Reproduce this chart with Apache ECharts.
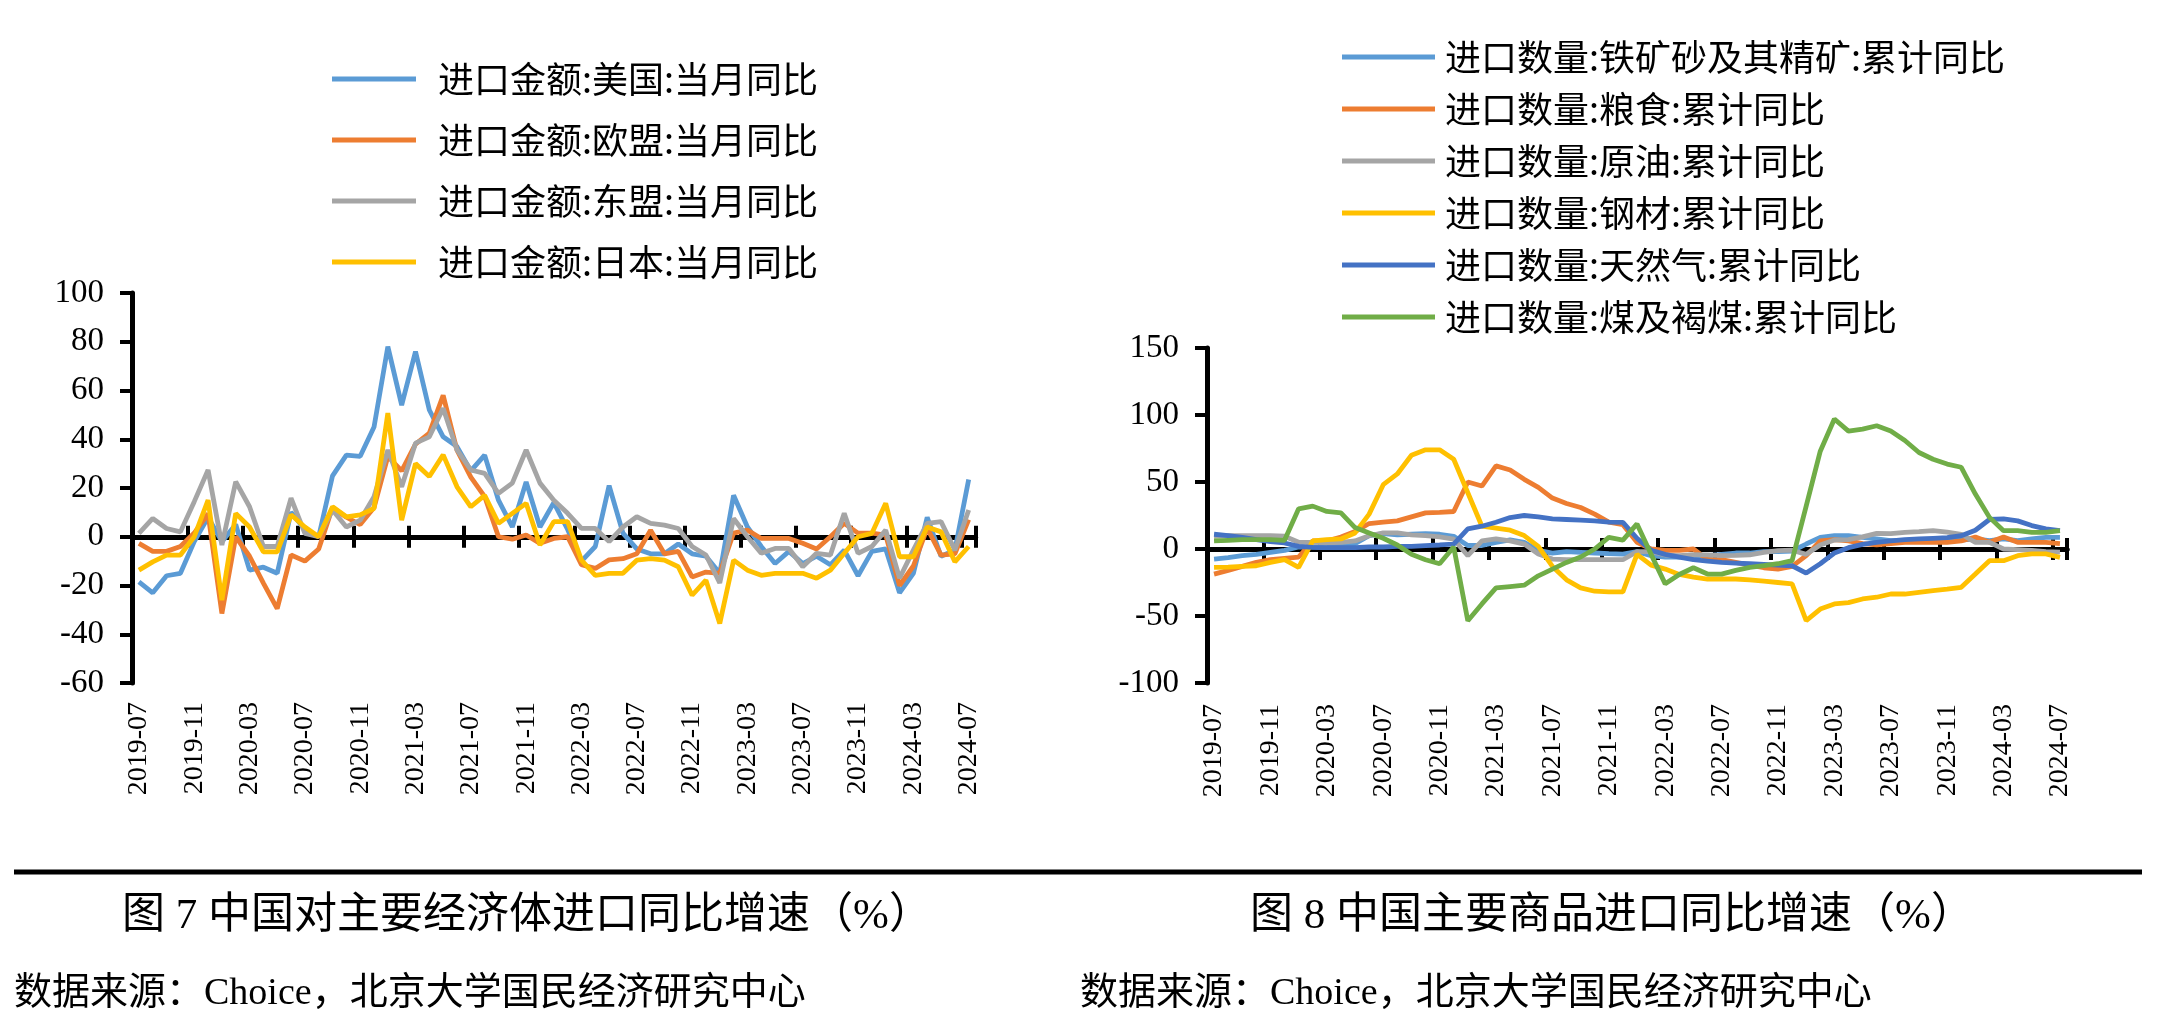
<!DOCTYPE html>
<html>
<head>
<meta charset="utf-8">
<script src="https://cdn.jsdelivr.net/npm/echarts@6/dist/echarts.min.js"></script>
<style>
  html, body { margin: 0; padding: 0; background: #fff; }
  #chart { width: 2157px; height: 1032px; }
</style>
</head>
<body>
<div id="chart"></div>
<script>
// months shared by both panels
const months = [
  '2019-07','2019-08','2019-09','2019-10','2019-11','2019-12',
  '2020-01','2020-02','2020-03','2020-04','2020-05','2020-06','2020-07','2020-08','2020-09','2020-10','2020-11','2020-12',
  '2021-01','2021-02','2021-03','2021-04','2021-05','2021-06','2021-07','2021-08','2021-09','2021-10','2021-11','2021-12',
  '2022-01','2022-02','2022-03','2022-04','2022-05','2022-06','2022-07','2022-08','2022-09','2022-10','2022-11','2022-12',
  '2023-01','2023-02','2023-03','2023-04','2023-05','2023-06','2023-07','2023-08','2023-09','2023-10','2023-11','2023-12',
  '2024-01','2024-02','2024-03','2024-04','2024-05','2024-06','2024-07'
]

// 图7 进口金额 当月同比
const leftNames = ['进口金额:美国:当月同比', '进口金额:欧盟:当月同比', '进口金额:东盟:当月同比', '进口金额:日本:当月同比']
const usImport = [-18.5, -23, -16, -15, -2, 8, -2, 5, -13.7, -12.5,
  -15, 10, 3, 0, 25, 33.5, 33, 45, 78, 54,
  76, 52, 41, 37, 27, 33.5, 15, 4, 22.5, 4,
  14, 3, -10, -4, 21, 1.5, -5, -7, -7, -3,
  -7, -8, -15, 17, 4, -4, -11, -6, -11, -8,
  -11.5, -5.5, -16, -6, -5, -23, -15, 8, -8, -5.5,
  23.5]
const euImport = [-2.7, -6, -6, -4, 1.5, 9.5, -31.5, 0, -8, -19,
  -29.5, -7.5, -10, -5, 12, 8, 5, 12, 33, 27,
  38, 42.5, 58, 35.5, 24.5, 16.5, 0, -1, 0.7, -2.7,
  -0.7, 0, -11.5, -13, -9.5, -9, -7, 2.7, -7, -6,
  -16.5, -14.5, -15, 1.5, 2.7, -0.7, -0.7, -0.7, -2.7, -5,
  0, 5.5, 1.5, 1.5, 0.7, -20, -12, 3.5, -7.5, -7,
  7]
const aseanImport = [1.4, 7.5, 3.4, 2, 14.4, 27.4, -3.4, 22.6, 12.3, -4,
  -4, 15.8, 1.4, 0, 11, 4, 6.8, 16.4, 35.6, 20.5,
  38.4, 41, 52.7, 35.6, 27.4, 26, 17.8, 22, 35.6, 22,
  15, 9.6, 3.4, 3.4, -2, 4, 8.2, 5.5, 4.8, 3.4,
  -4, -7.5, -19, 7.5, 0, -6.8, -4.8, -4.8, -12.3, -6.8,
  -7.5, 9.6, -6.8, -4, 2.7, -17, -5.5, 5.5, 6.2, -5.5,
  11]
const japanImport = [-13.7, -10.3, -7.5, -7.5, 0, 15, -26, 9.6, 4, -6.2,
  -6.2, 9, 4, 0, 12.3, 8.2, 9, 11.6, 50.7, 6.8,
  30, 24.7, 33.6, 20.5, 12.3, 17, 5.5, 9.6, 13.7, -3.4,
  6.2, 6.2, -9.6, -15.8, -15, -15, -9.6, -9, -9.6, -12.3,
  -24, -17.8, -35.6, -9.6, -13.7, -15.8, -15, -15, -15, -17,
  -13.7, -6.8, 0, 1.4, 13.7, -8.2, -8.2, 4, 2, -10.3,
  -4]

// 图8 进口数量 累计同比
const rightNames = ['进口数量:铁矿砂及其精矿:累计同比', '进口数量:粮食:累计同比', '进口数量:原油:累计同比',
  '进口数量:钢材:累计同比', '进口数量:天然气:累计同比', '进口数量:煤及褐煤:累计同比']
const ironOre = [-7.5, -6.5, -5, -4, -2.5, -1, 1.5, 1.5, 1.1, 3.1,
  4, 9.9, 11.5, 10.5, 11, 11.5, 11, 9.5, 2.6, 2.6,
  5, 6.8, 5, -1, -3, -2, -2.5, -3, -3.5, -3.9,
  -2, -5, -6, -6, -5, -5, -4, -3, -3, -2,
  -2, -1.5, 3.7, 8.7, 10, 10, 8.7, 7.5, 6.2, 6.2,
  6.2, 6.2, 6.2, 6.6, 7.5, 6.2, 7.5, 6.2, 7.5, 8.7,
  8.7]
const grain = [-18.7, -16, -13, -10, -8, -7, -6, 6, 6, 9,
  13, 19, 20, 21, 24, 27, 27.4, 28, 50, 47,
  62, 59, 52, 46, 38, 34, 31, 26, 20, 18.1,
  5, 0, -1, -1, 0, -8, -8, -10, -12, -14,
  -15, -13, -5, 6, 7, 6, 4, 3, 4, 5,
  5, 5, 5, 6, 9, 5, 9, 5, 5, 5,
  4]
const crude = [9.5, 10, 10, 10, 10, 9.5, 5, 5, 4.5, 5,
  6, 9.9, 12, 12, 10.6, 10, 9, 7.3, -5, 6,
  7.5, 6, 3.7, -3.7, -7.5, -8, -8, -8, -8, -8,
  -2, -2, -4.5, -5, -4.3, -4.4, -5, -4.8, -4.3, -2.6,
  -1.2, -0.9, -4, 3, 6.7, 7, 9, 11.7, 11.5, 12.4,
  13, 13.7, 12.6, 11, 5, 5, 0, -0.5, -1, -2,
  -2.4]
const steel = [-13.7, -13.5, -13, -12.5, -10, -8, -13.7, 6, 7, 7.5,
  12, 26, 48, 56, 70, 74, 74, 67, 42, 17,
  15.5, 14, 10, 2, -13, -23, -29, -31.5, -32, -32,
  -4, -12, -15, -19, -21, -22.4, -22.4, -22.4, -23, -24,
  -25, -26, -53.5, -44.8, -41, -40, -37.3, -36, -33.6, -33.6,
  -32.3, -31, -30, -28.6, -18.7, -8.7, -8.7, -5, -3.7, -3.7,
  -6.2]
const gas = [11, 10, 8.7, 7, 5.5, 4.5, 2, 1.2, 1, 1,
  1, 1.5, 1.5, 2, 2, 2.5, 3, 3.7, 15, 17,
  20, 23.5, 25, 24, 22.5, 22, 21.5, 21, 20, 19.9,
  8, -1, -4, -6, -8, -9, -10, -10.5, -11, -11.5,
  -12, -12.5, -18, -11, -3, 1, 3.5, 5, 6, 7,
  7.5, 8, 8.5, 9.9, 14, 22, 22.5, 21, 17.5, 15,
  13.7]
const coal = [6, 6.5, 7, 7, 7, 6.5, 30, 32, 28, 27,
  16, 12, 8, 3, -4, -8, -11, 1.5, -53.5, -41,
  -29, -28, -27, -20, -15, -10, -6, 0, 8.7, 6.6,
  18.7, -4, -26, -19, -14, -18.7, -18.7, -16, -13.7, -12.4,
  -11, -8.7, 32, 73, 97, 88, 89.5, 92, 88, 81,
  72, 67, 63.4, 61, 41, 23.6, 13.7, 13.7, 12.4, 12.4,
  13.7]

const colors = ['#5b9bd5', '#ed7d31', '#a5a5a5', '#ffc000', '#4472c4', '#70ad47']
const serif = '"Liberation Serif", "Noto Sans CJK SC", serif'
const cjk = '"Noto Sans CJK SC", sans-serif'

// x axes per panel: one carries the low labels, two sit on the zero line
// (one ticks down, one ticks up) so the ticks cross the line like Excel's
function catAxes(grid, labelMargin, yMain, yTwin) {
  const tick = { show: true, interval: 3, length: 11, lineStyle: { color: '#000', width: 4 } }
  return [
    {
      gridIndex: grid, type: 'category', data: months, boundaryGap: true, position: 'bottom',
      axisLine: { show: false, onZero: false },
      axisTick: { show: false },
      axisLabel: { interval: 3, rotate: 90, margin: labelMargin, color: '#000', fontFamily: serif, fontSize: 28 }
    },
    {
      gridIndex: grid, type: 'category', data: months, boundaryGap: true, position: 'bottom',
      axisLine: { show: true, onZero: true, onZeroAxisIndex: yMain, lineStyle: { color: '#000', width: 5 } },
      axisTick: tick, axisLabel: { show: false }
    },
    {
      gridIndex: grid, type: 'category', data: months, boundaryGap: true, position: 'top',
      axisLine: { show: true, onZero: true, onZeroAxisIndex: yTwin, lineStyle: { color: '#000', width: 5 } },
      axisTick: tick, axisLabel: { show: false }
    }
  ]
}

function valueAxes(grid, min, max, step) {
  return [
    {
      gridIndex: grid, type: 'value', position: 'left', min: min, max: max, interval: step,
      axisLine: { show: true, lineStyle: { color: '#000', width: 5 } },
      axisTick: { show: true, length: 12, lineStyle: { color: '#000', width: 4 } },
      axisLabel: { margin: 28, color: '#000', fontFamily: serif, fontSize: 33 },
      splitLine: { show: false }
    },
    // hidden twin, only there to hold the second zero-line axis
    { gridIndex: grid, type: 'value', position: 'left', min: min, max: max, interval: step, show: false }
  ]
}

function lineSeries(name, data, color, xIdx, yIdx) {
  return {
    name: name, type: 'line', data: data, xAxisIndex: xIdx, yAxisIndex: yIdx,
    symbol: 'none', lineStyle: { color: color, width: 4.8 }, itemStyle: { color: color }
  }
}

const legendText = { fontFamily: cjk, fontSize: 36, color: '#000', lineHeight: 40 }

const chart = echarts.init(document.getElementById('chart'))
chart.setOption({
  animation: false,
  backgroundColor: '#fff',
  grid: [
    { left: 132, top: 293, width: 843.6, height: 390, outerBoundsMode: 'none' },
    { left: 1207, top: 348, width: 860, height: 335, outerBoundsMode: 'none' }
  ],
  legend: [
    {
      data: leftNames, orient: 'vertical', left: 327, top: 54, icon: 'rect',
      itemWidth: 84, itemHeight: 5, itemGap: 21,
      textStyle: Object.assign({}, legendText, { padding: [0, 0, 0, 17] })
    },
    {
      data: rightNames, orient: 'vertical', left: 1337, top: 32, icon: 'rect',
      itemWidth: 93, itemHeight: 5, itemGap: 12,
      textStyle: Object.assign({}, legendText, { padding: [0, 0, 0, 5] })
    }
  ],
  xAxis: catAxes(0, 19, 0, 1).concat(catAxes(1, 21, 2, 3)),
  yAxis: valueAxes(0, -60, 100, 20).concat(valueAxes(1, -100, 150, 50)),
  series: [
    lineSeries(leftNames[0], usImport, colors[0], 0, 0),
    lineSeries(leftNames[1], euImport, colors[1], 0, 0),
    lineSeries(leftNames[2], aseanImport, colors[2], 0, 0),
    lineSeries(leftNames[3], japanImport, colors[3], 0, 0),
    lineSeries(rightNames[0], ironOre, colors[0], 3, 2),
    lineSeries(rightNames[1], grain, colors[1], 3, 2),
    lineSeries(rightNames[2], crude, colors[2], 3, 2),
    lineSeries(rightNames[3], steel, colors[3], 3, 2),
    lineSeries(rightNames[4], gas, colors[4], 3, 2),
    lineSeries(rightNames[5], coal, colors[5], 3, 2)
  ],
  graphic: [
    { type: 'line', shape: { x1: 14, y1: 872, x2: 2142, y2: 872 }, style: { stroke: '#000', lineWidth: 5 } },
    { type: 'text', x: 527, y: 917, style: { text: '图 7 中国对主要经济体进口同比增速（%）', font: '43px ' + serif, fill: '#000', textAlign: 'center', textVerticalAlign: 'middle' } },
    { type: 'text', x: 1612, y: 917, style: { text: '图 8 中国主要商品进口同比增速（%）', font: '43px ' + serif, fill: '#000', textAlign: 'center', textVerticalAlign: 'middle' } },
    { type: 'text', x: 14, y: 994, style: { text: '数据来源：Choice，北京大学国民经济研究中心', font: '38px ' + serif, fill: '#000', textAlign: 'left', textVerticalAlign: 'middle' } },
    { type: 'text', x: 1080, y: 994, style: { text: '数据来源：Choice，北京大学国民经济研究中心', font: '38px ' + serif, fill: '#000', textAlign: 'left', textVerticalAlign: 'middle' } }
  ]
})
</script>
</body>
</html>
